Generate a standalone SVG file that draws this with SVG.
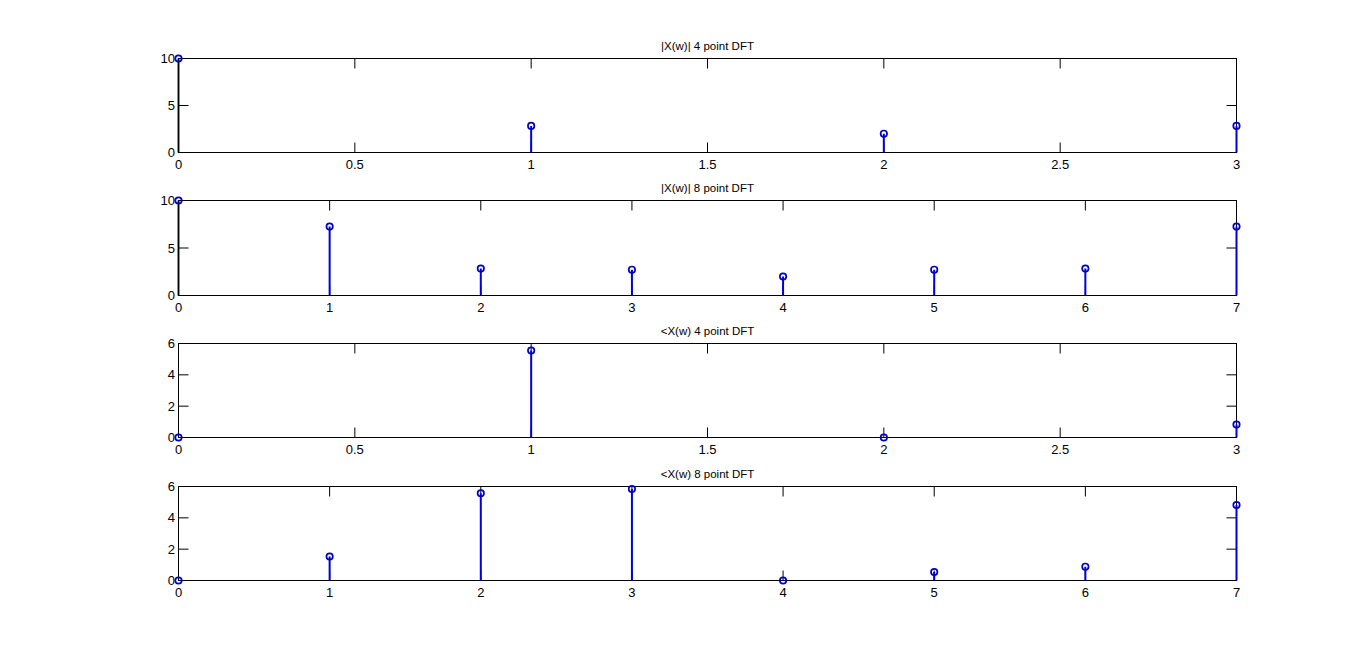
<svg xmlns="http://www.w3.org/2000/svg" width="1366" height="652" viewBox="0 0 1366 652">
<style>
.box{fill:none;stroke:#000;stroke-width:1}
.tk{stroke:#000;stroke-width:1;fill:none}
.lbl{font-family:"Liberation Sans",Arial,sans-serif;font-size:13px;fill:#000}
.xl{text-anchor:middle}
.yl{text-anchor:end}
.ttl{font-family:"Liberation Sans",Arial,sans-serif;font-size:11.5px;fill:#000;text-anchor:middle}
.stem{stroke:#0000dd;stroke-width:2;fill:none}
.mk{stroke:#0000c0;stroke-width:1.7;fill:none}
</style>
<rect x="0" y="0" width="1366" height="652" fill="#fff"/>

<!-- Plot 1 -->
<g id="plot1">
<path class="stem" d="M178.5,152.5V58.5"/>
<rect class="box" x="178.5" y="58.5" width="1058" height="94"/>
<path class="tk" d="M354.83,152.5v-10M531.17,152.5v-10M707.5,152.5v-10M883.83,152.5v-10M1060.17,152.5v-10M354.83,58.5v10M531.17,58.5v10M707.5,58.5v10M883.83,58.5v10M1060.17,58.5v10M178.5,105.5h10M1236.5,105.5h-10"/>
<text class="lbl xl" x="178.5" y="168.5">0</text>
<text class="lbl xl" x="354.83" y="168.5">0.5</text>
<text class="lbl xl" x="531.17" y="168.5">1</text>
<text class="lbl xl" x="707.5" y="168.5">1.5</text>
<text class="lbl xl" x="883.83" y="168.5">2</text>
<text class="lbl xl" x="1060.17" y="168.5">2.5</text>
<text class="lbl xl" x="1236.5" y="168.5">3</text>
<text class="lbl yl" x="175" y="157">0</text>
<text class="lbl yl" x="175" y="110">5</text>
<text class="lbl yl" x="175" y="63">10</text>
<text class="ttl" x="707.5" y="49.5">|X(w)| 4 point DFT</text>
<path class="stem" d="M531.17,152.5V125.9M883.83,152.5V133.7M1236.5,152.5V125.9"/>
<circle class="mk" cx="178.5" cy="58.5" r="3.2"/>
<circle class="mk" cx="531.17" cy="125.9" r="3.2"/>
<circle class="mk" cx="883.83" cy="133.7" r="3.2"/>
<circle class="mk" cx="1236.5" cy="125.9" r="3.2"/>
</g>

<!-- Plot 2 -->
<g id="plot2">
<path class="stem" d="M178.5,295.5V200.5"/>
<rect class="box" x="178.5" y="200.5" width="1058" height="95"/>
<path class="tk" d="M329.64,295.5v-10M480.79,295.5v-10M631.93,295.5v-10M783.07,295.5v-10M934.21,295.5v-10M1085.36,295.5v-10M329.64,200.5v10M480.79,200.5v10M631.93,200.5v10M783.07,200.5v10M934.21,200.5v10M1085.36,200.5v10M178.5,248h10M1236.5,248h-10"/>
<text class="lbl xl" x="178.5" y="311.5">0</text>
<text class="lbl xl" x="329.64" y="311.5">1</text>
<text class="lbl xl" x="480.79" y="311.5">2</text>
<text class="lbl xl" x="631.93" y="311.5">3</text>
<text class="lbl xl" x="783.07" y="311.5">4</text>
<text class="lbl xl" x="934.21" y="311.5">5</text>
<text class="lbl xl" x="1085.36" y="311.5">6</text>
<text class="lbl xl" x="1236.5" y="311.5">7</text>
<text class="lbl yl" x="175" y="300">0</text>
<text class="lbl yl" x="175" y="252.5">5</text>
<text class="lbl yl" x="175" y="205">10</text>
<text class="ttl" x="707.5" y="191.5">|X(w)| 8 point DFT</text>
<path class="stem" d="M329.64,295.5V226.6M480.79,295.5V268.6M631.93,295.5V269.7M783.07,295.5V276.5M934.21,295.5V269.7M1085.36,295.5V268.6M1236.5,295.5V226.6"/>
<circle class="mk" cx="178.5" cy="200.5" r="3.2"/>
<circle class="mk" cx="329.64" cy="226.6" r="3.2"/>
<circle class="mk" cx="480.79" cy="268.6" r="3.2"/>
<circle class="mk" cx="631.93" cy="269.7" r="3.2"/>
<circle class="mk" cx="783.07" cy="276.5" r="3.2"/>
<circle class="mk" cx="934.21" cy="269.7" r="3.2"/>
<circle class="mk" cx="1085.36" cy="268.6" r="3.2"/>
<circle class="mk" cx="1236.5" cy="226.6" r="3.2"/>
</g>

<!-- Plot 3 -->
<g id="plot3">
<rect class="box" x="178.5" y="343.5" width="1058" height="94"/>
<path class="tk" d="M354.83,437.5v-10M531.17,437.5v-10M707.5,437.5v-10M883.83,437.5v-10M1060.17,437.5v-10M354.83,343.5v10M531.17,343.5v10M707.5,343.5v10M883.83,343.5v10M1060.17,343.5v10M178.5,406.17h10M178.5,374.83h10M1236.5,406.17h-10M1236.5,374.83h-10"/>
<text class="lbl xl" x="178.5" y="453.5">0</text>
<text class="lbl xl" x="354.83" y="453.5">0.5</text>
<text class="lbl xl" x="531.17" y="453.5">1</text>
<text class="lbl xl" x="707.5" y="453.5">1.5</text>
<text class="lbl xl" x="883.83" y="453.5">2</text>
<text class="lbl xl" x="1060.17" y="453.5">2.5</text>
<text class="lbl xl" x="1236.5" y="453.5">3</text>
<text class="lbl yl" x="175" y="442">0</text>
<text class="lbl yl" x="175" y="410.7">2</text>
<text class="lbl yl" x="175" y="379.3">4</text>
<text class="lbl yl" x="175" y="348">6</text>
<text class="ttl" x="707.5" y="334.5">&lt;X(w) 4 point DFT</text>
<path class="stem" d="M531.17,437.5V350.5M1236.5,437.5V424.5"/>
<circle class="mk" cx="178.5" cy="437.5" r="3.2"/>
<circle class="mk" cx="531.17" cy="350.5" r="3.2"/>
<circle class="mk" cx="883.83" cy="437.5" r="3.2"/>
<circle class="mk" cx="1236.5" cy="424.5" r="3.2"/>
</g>

<!-- Plot 4 -->
<g id="plot4">
<rect class="box" x="178.5" y="486.5" width="1058" height="94"/>
<path class="tk" d="M329.64,580.5v-10M480.79,580.5v-10M631.93,580.5v-10M783.07,580.5v-10M934.21,580.5v-10M1085.36,580.5v-10M329.64,486.5v10M480.79,486.5v10M631.93,486.5v10M783.07,486.5v10M934.21,486.5v10M1085.36,486.5v10M178.5,549.17h10M178.5,517.83h10M1236.5,549.17h-10M1236.5,517.83h-10"/>
<text class="lbl xl" x="178.5" y="596.5">0</text>
<text class="lbl xl" x="329.64" y="596.5">1</text>
<text class="lbl xl" x="480.79" y="596.5">2</text>
<text class="lbl xl" x="631.93" y="596.5">3</text>
<text class="lbl xl" x="783.07" y="596.5">4</text>
<text class="lbl xl" x="934.21" y="596.5">5</text>
<text class="lbl xl" x="1085.36" y="596.5">6</text>
<text class="lbl xl" x="1236.5" y="596.5">7</text>
<text class="lbl yl" x="175" y="585">0</text>
<text class="lbl yl" x="175" y="553.7">2</text>
<text class="lbl yl" x="175" y="522.3">4</text>
<text class="lbl yl" x="175" y="491">6</text>
<text class="ttl" x="707.5" y="477.5">&lt;X(w) 8 point DFT</text>
<path class="stem" d="M329.64,580.5V556.5M480.79,580.5V493.3M631.93,580.5V489M934.21,580.5V572M1085.36,580.5V566.7M1236.5,580.5V505"/>
<circle class="mk" cx="178.5" cy="580.5" r="3.2"/>
<circle class="mk" cx="329.64" cy="556.5" r="3.2"/>
<circle class="mk" cx="480.79" cy="493.3" r="3.2"/>
<circle class="mk" cx="631.93" cy="489" r="3.2"/>
<circle class="mk" cx="783.07" cy="580.5" r="3.2"/>
<circle class="mk" cx="934.21" cy="572" r="3.2"/>
<circle class="mk" cx="1085.36" cy="566.7" r="3.2"/>
<circle class="mk" cx="1236.5" cy="505" r="3.2"/>
</g>

<g id="connectors"></g>
</svg>
